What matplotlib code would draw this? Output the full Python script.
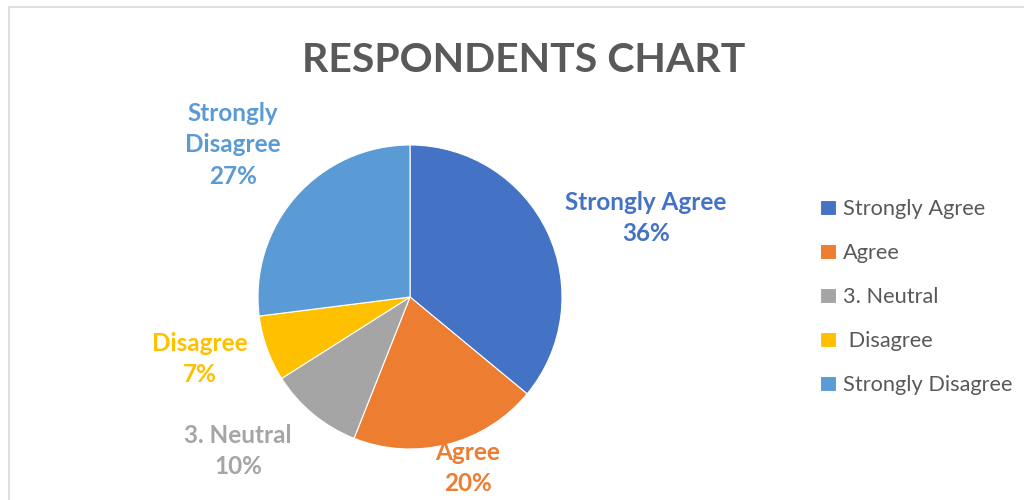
import matplotlib.pyplot as plt
from matplotlib.patches import Rectangle

labels = ["Strongly Agree", "Agree", "3. Neutral", " Disagree", "Strongly Disagree"]
slice_names = ["Strongly Agree", "Agree", "3. Neutral", "Disagree", "Strongly\nDisagree"]
values = [36, 20, 10, 7, 27]
colors = ["#4472C4", "#ED7D31", "#A5A5A5", "#FFC000", "#5B9BD5"]
# label centres in pixel coords (x, y from top)
label_pos = [(646, 218), (468, 468), (238, 451), (200, 359), (233, 145)]

plt.rcParams['font.family'] = ['Lato', 'DejaVu Sans']

fig = plt.figure(figsize=(10.24, 5), dpi=100)
ax = fig.add_axes([0, 0, 1, 1])

# chart frame
ax.add_patch(Rectangle((9, -10), 1100, 503, fill=False, edgecolor="#D9D9D9", linewidth=1.2))

wedges, _ = ax.pie(values, colors=colors, startangle=90, counterclock=False,
                   center=(410, 203), radius=152,
                   wedgeprops=dict(edgecolor="white", linewidth=0.8), frame=True)
ax.set_xlim(0, 1024)
ax.set_ylim(0, 500)
ax.set_aspect('auto')
ax.axis('off')

for name, v, c, (x, y) in zip(slice_names, values, colors, label_pos):
    ax.text(x, 500 - y, f"{name}\n{v}%", color=c, fontsize=17.5, fontweight='bold',
            ha='center', va='center', linespacing=1.45)

ax.text(524, 500 - 60, "RESPONDENTS CHART", color="#595959", fontsize=29.5,
        fontweight='bold', ha='center', va='center')

ax.legend(wedges, labels, loc='upper left', bbox_to_anchor=(803 / 1024, 1 - 182 / 500),
          frameon=False, fontsize=15.7, labelcolor="#595959", handlelength=0.7,
          handleheight=0.7, handletextpad=0.35, labelspacing=1.1, borderpad=0.3)

fig.savefig("out.png", dpi=100)
